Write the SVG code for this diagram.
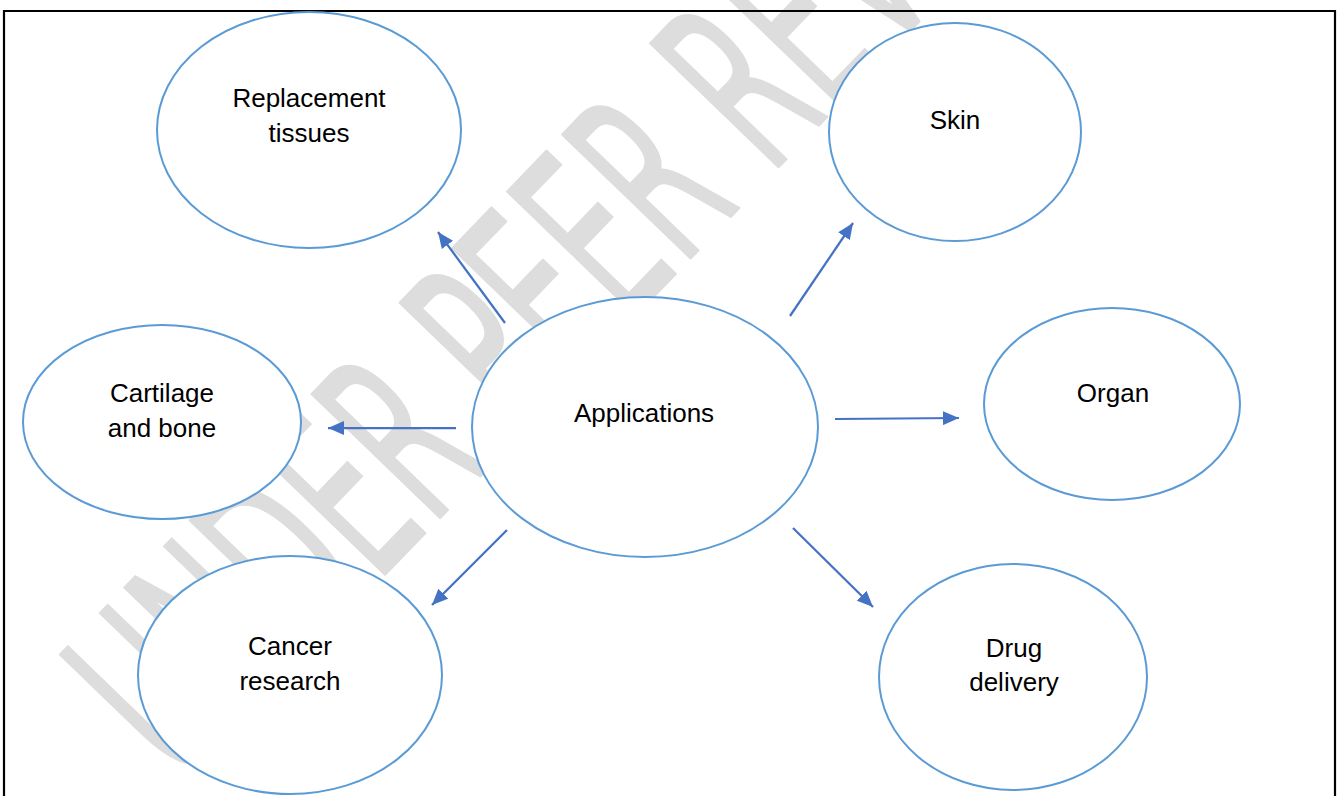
<svg xmlns="http://www.w3.org/2000/svg" width="1341" height="796" viewBox="0 0 1341 796">
  <style>
    .node ellipse { fill: #ffffff; stroke: #5b9bd5; stroke-width: 2; }
    .node text { font-family: "Liberation Sans", Arial, sans-serif; font-size: 26px; fill: #000000; text-anchor: middle; }
    .edge { stroke: #4472c4; stroke-width: 2.25; fill: none; marker-end: url(#head); }
    .mark { font-family: "DejaVu Sans", sans-serif; font-size: 245px; fill: #dddddd; stroke: #dddddd; stroke-width: 2; stroke-linejoin: round; }
  </style>
  <defs>
    <marker id="head" markerUnits="userSpaceOnUse" markerWidth="16" markerHeight="14" refX="16" refY="7" orient="auto">
      <path d="M0,0 L16,7 L0,14 z" fill="#4472c4"/>
    </marker>
  </defs>

  <rect width="1341" height="796" fill="#ffffff"/>

  <!-- watermark, behind everything -->
  <g id="watermark" transform="translate(186,781) rotate(-46)">
    <text class="mark" x="-8" y="0" textLength="1340" lengthAdjust="spacingAndGlyphs">UNDER PEER REVIEW</text>
  </g>

  <!-- frame (open at the bottom) -->
  <path d="M4,800 V11 H1335 V800" fill="none" stroke="#000000" stroke-width="2.2"/>

  <g id="connectors">
    <line class="edge" x1="505" y1="323" x2="438" y2="232"/>
    <line class="edge" x1="790" y1="316" x2="853" y2="223"/>
    <line class="edge" x1="456" y1="428" x2="328" y2="428"/>
    <line class="edge" x1="835" y1="419" x2="959" y2="418"/>
    <line class="edge" x1="507" y1="530" x2="432" y2="605"/>
    <line class="edge" x1="793" y1="528" x2="873" y2="607"/>
  </g>

  <g id="replacement" class="node">
    <ellipse cx="309" cy="130" rx="152" ry="118"/>
    <text x="309" y="107">Replacement</text>
    <text x="309" y="142">tissues</text>
  </g>

  <g id="skin" class="node">
    <ellipse cx="955" cy="132" rx="126" ry="109"/>
    <text x="955" y="129">Skin</text>
  </g>

  <g id="cartilage" class="node">
    <ellipse cx="162" cy="422" rx="139" ry="97"/>
    <text x="162" y="402">Cartilage</text>
    <text x="162" y="437">and bone</text>
  </g>

  <g id="applications" class="node">
    <ellipse cx="645" cy="427" rx="173" ry="130"/>
    <text x="644" y="422">Applications</text>
  </g>

  <g id="organ" class="node">
    <ellipse cx="1112" cy="404" rx="128" ry="96"/>
    <text x="1113" y="402">Organ</text>
  </g>

  <g id="cancer" class="node">
    <ellipse cx="290" cy="675" rx="152" ry="119"/>
    <text x="290" y="655">Cancer</text>
    <text x="290" y="690">research</text>
  </g>

  <g id="drug" class="node">
    <ellipse cx="1013" cy="677" rx="134" ry="113"/>
    <text x="1014" y="657">Drug</text>
    <text x="1014" y="691">delivery</text>
  </g>
</svg>
